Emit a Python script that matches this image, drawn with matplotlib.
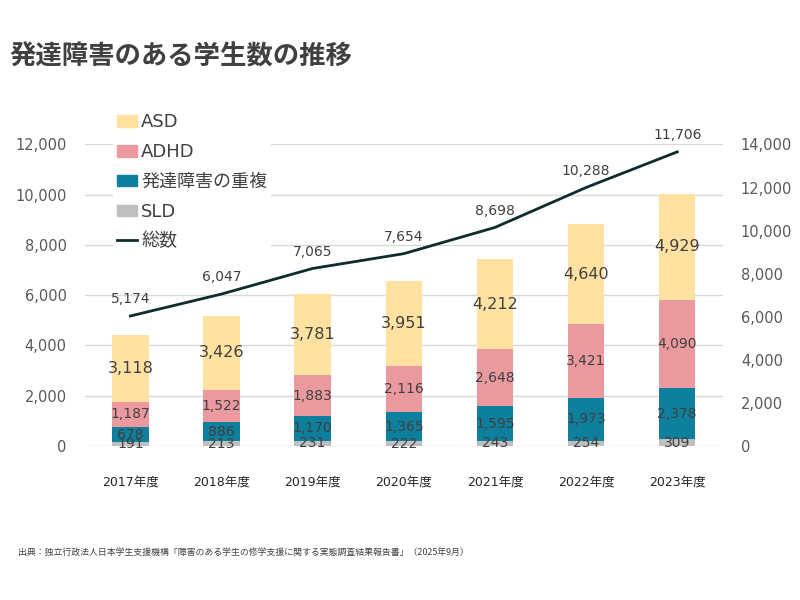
import matplotlib
matplotlib.use("Agg")
import matplotlib.pyplot as plt
from matplotlib.patches import Patch
from matplotlib.lines import Line2D

plt.rcParams['font.family'] = ['DejaVu Sans', 'Noto Sans CJK JP']

years = ["2017年度", "2018年度", "2019年度", "2020年度", "2021年度", "2022年度", "2023年度"]
sld = [191, 213, 231, 222, 243, 254, 309]
overlap = [678, 886, 1170, 1365, 1595, 1973, 2378]
adhd = [1187, 1522, 1883, 2116, 2648, 3421, 4090]
asd = [3118, 3426, 3781, 3951, 4212, 4640, 4929]
total = [5174, 6047, 7065, 7654, 8698, 10288, 11706]

left_ticks = [0, 2000, 4000, 6000, 8000, 10000, 12000]
right_ticks = [0, 2000, 4000, 6000, 8000, 10000, 12000, 14000]

series = [("SLD", sld, "#BFBFBF"),
          ("発達障害の重複", overlap, "#0E7F9C"),
          ("ADHD", adhd, "#EA9A9E"),
          ("ASD", asd, "#FFE1A1")]

txt = "#404040"
tick_c = "#595959"

fig = plt.figure(figsize=(8, 6), dpi=100)
ax = fig.add_axes([0.106, 0.2567, 0.7975, 0.5025])
ax2 = ax.twinx()
ax3 = ax.twinx()

x = list(range(len(years)))

# base axis: left ticks + grid
ax.set_ylim(0, 12000)
ax.set_yticks(left_ticks)
ax.set_yticklabels([f"{v:,}" for v in left_ticks])
ax.grid(axis='y', color='#D9D9D9', linewidth=1)
ax.set_axisbelow(True)
ax.tick_params(axis='y', length=0, pad=13, labelsize=10.5, labelcolor=tick_c)
ax.set_xlim(-0.5, 6.5)
ax.set_xticks(x)
ax.set_xticklabels(years)
ax.tick_params(axis='x', length=0, pad=21, labelsize=9, labelcolor='#262626')

# bars on right axis
ax2.set_ylim(0, 14000)
ax2.set_yticks(right_ticks)
ax2.set_yticklabels([f"{v:,}" for v in right_ticks])
ax2.tick_params(axis='y', length=0, pad=13, labelsize=10.5, labelcolor=tick_c)
bottom = [0] * len(years)
for name, vals, col in series:
    ax2.bar(x, vals, width=0.4, bottom=bottom, color=col, linewidth=0)
    fs = 11.5 if name == "ASD" else 10
    for xi, v, b in zip(x, vals, bottom):
        ax2.text(xi, b + v / 2, f"{v:,}", ha='center', va='center',
                 fontsize=fs, color=txt)
    bottom = [b + v for b, v in zip(bottom, vals)]

# line on left scale, on top
ax3.set_ylim(0, 12000)
ax3.yaxis.set_visible(False)
ax3.plot(x, total, color='#0F2B2E', linewidth=2)
for xi, v in zip(x, total):
    ax3.annotate(f"{v:,}", (xi, v), xytext=(0, 12), textcoords='offset points',
                 ha='center', va='center', fontsize=10, color=txt)

for a in (ax, ax2, ax3):
    for s in a.spines.values():
        s.set_visible(False)

handles = [Patch(color="#FFE1A1"), Patch(color="#EA9A9E"), Patch(color="#0E7F9C"),
           Patch(color="#BFBFBF"), Line2D([], [], color='#0F2B2E', linewidth=2)]
labels = ["ASD", "ADHD", "発達障害の重複", "SLD", "総数"]
leg = fig.legend(handles, labels, loc='upper left', bbox_to_anchor=(0.13, 0.832),
                 frameon=True, fontsize=13, handlelength=1.1, handleheight=0.6,
                 handletextpad=0.25, labelspacing=0.65, borderpad=0.2,
                 labelcolor=txt)
leg.get_frame().set_facecolor('white')
leg.get_frame().set_edgecolor('none')
leg.get_frame().set_alpha(1)

fig.text(0.012, 0.905, "発達障害のある学生数の推移", fontsize=19, fontweight='bold',
         color=txt, va='center', ha='left', family=['Noto Sans CJK JP'])
fig.text(0.022, 0.08, "出典：独立行政法人日本学生支援機構「障害のある学生の修学支援に関する実態調査結果報告書」（2025年9月）",
         fontsize=6.4, color=txt, va='center', ha='left', family=['Noto Sans CJK JP'])

fig.savefig("out.png", dpi=100)
